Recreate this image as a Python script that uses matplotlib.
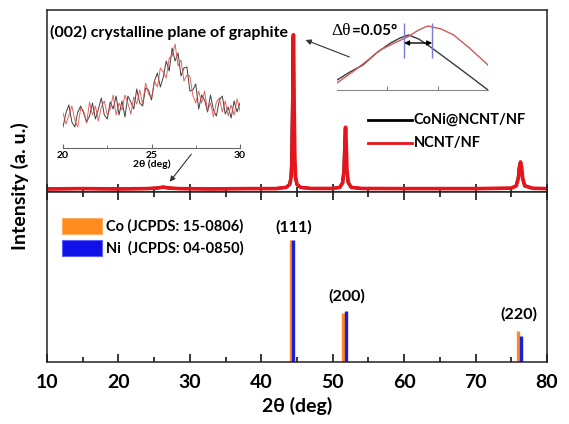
import matplotlib
matplotlib.use('Agg')
import matplotlib.pyplot as plt
from matplotlib.patches import Rectangle, FancyArrowPatch
from matplotlib.lines import Line2D
from matplotlib.ticker import MultipleLocator, FixedLocator

plt.rcParams['font.family'] = ['Lato', 'DejaVu Sans']
plt.rcParams['font.weight'] = 'bold'

# ---------------- data ----------------
# main XRD patterns (2theta, normalised intensity)
ncnt_x = [10, 15, 20, 24, 25.5, 26.3, 27, 28.5, 33, 38, 42, 43.5, 44.0, 44.2, 44.3, 44.4, 44.45,
          44.5, 44.55, 44.6, 44.7, 44.8, 45.0, 45.5, 47, 50, 51.0, 51.4, 51.6, 51.7, 51.8, 51.9,
          52.0, 52.2, 52.6, 54, 60, 70, 75, 75.7, 76.0, 76.15, 76.3, 76.45, 76.6, 76.9, 78, 80]
ncnt_y = [0.0, 0.002, 0.0, 0.002, 0.006, 0.012, 0.006, 0.002, 0.0, 0.002, 0.002, 0.01, 0.03, 0.08,
          0.2, 0.55, 0.85, 1.0, 0.85, 0.55, 0.2, 0.08, 0.03, 0.01, 0.003, 0.003, 0.01, 0.04, 0.12,
          0.28, 0.40, 0.28, 0.12, 0.04, 0.01, 0.003, 0.002, 0.002, 0.005, 0.02, 0.07, 0.14, 0.175,
          0.14, 0.07, 0.02, 0.004, 0.002]
coni_x = [10, 15, 20, 24, 25.5, 26.3, 27, 28.5, 33, 38, 42, 43.45, 43.95, 44.15, 44.25, 44.35, 44.4,
          44.45, 44.5, 44.55, 44.65, 44.75, 44.95, 45.45, 47, 50, 50.95, 51.35, 51.55, 51.65, 51.75,
          51.85, 51.95, 52.15, 52.55, 54, 60, 70, 75, 75.65, 75.95, 76.1, 76.25, 76.4, 76.55, 76.85, 78, 80]
coni_y = [0.0, 0.002, 0.0, 0.002, 0.006, 0.012, 0.006, 0.002, 0.0, 0.002, 0.002, 0.01, 0.03, 0.08,
          0.2, 0.55, 0.85, 0.99, 0.85, 0.55, 0.2, 0.08, 0.03, 0.01, 0.003, 0.003, 0.01, 0.04, 0.12,
          0.28, 0.39, 0.28, 0.12, 0.04, 0.01, 0.003, 0.002, 0.002, 0.005, 0.02, 0.07, 0.14, 0.17,
          0.14, 0.07, 0.02, 0.004, 0.002]

# inset 1: graphite (002) region 20-30 deg
inset_x = [20 + i / 6 for i in range(61)]
inset_black = [21, 35, 43, 26, 21, 36, 42, 35, 26, 32, 45, 29, 39, 50, 33, 29, 46, 39, 52, 33,
               47, 31, 52, 46, 39, 59, 45, 42, 60, 58, 48, 67, 75, 61, 71, 87, 77, 100, 87, 95,
               72, 80, 81, 57, 58, 64, 39, 53, 48, 36, 53, 38, 32, 48, 52, 34, 41, 30, 47, 36, 45]
inset_red = [35, 24, 33, 42, 28, 21, 40, 37, 25, 46, 33, 42, 27, 41, 47, 33, 39, 53, 33, 45,
             38, 53, 45, 34, 51, 44, 58, 44, 65, 54, 50, 67, 61, 80, 76, 70, 90, 92, 104, 82,
             88, 67, 73, 72, 53, 45, 57, 45, 57, 37, 45, 31, 46, 50, 36, 47, 32, 43, 33, 49, 37]

# inset 2: zoom of (111) peak top
zoom_black_x = [44.35, 44.373, 44.396, 44.42, 44.445, 44.462, 44.477, 44.495, 44.516, 44.54, 44.564, 44.59, 44.618]
zoom_black_y = [10, 18, 25, 37, 47, 52, 55, 51, 43, 33, 23, 12, 0]
zoom_red_x = [44.35, 44.38, 44.405, 44.427, 44.452, 44.475, 44.495, 44.511, 44.535, 44.557, 44.585, 44.618]
zoom_red_y = [7, 19, 30, 40, 47, 53, 60, 64, 61, 55, 42, 25]
shift_pos = [44.469, 44.519]

# reference patterns
co_pos = [44.2, 51.5, 75.9]
co_int = [100, 40, 25]
ni_pos = [44.5, 51.8, 76.4]
ni_int = [100, 42, 21]
hkl_labels = ['(111)', '(200)', '(220)']
hkl_x = [44.5, 52.0, 76.0]
hkl_y = [104, 48, 33]

# ---------------- figure ----------------
W, H = 569, 424
def fx(px): return px / W
def fy(py): return 1 - py / H

fig = plt.figure(figsize=(5.69, 4.24), dpi=100)
ax1 = fig.add_axes([fx(47), fy(192), fx(547) - fx(47), fy(10) - fy(192)])
ax2 = fig.add_axes([fx(47), fy(362), fx(547) - fx(47), fy(192) - fy(362)])

for ax in (ax1, ax2):
    ax.set_xlim(10, 80)
    ax.xaxis.set_major_locator(MultipleLocator(10))
    ax.xaxis.set_minor_locator(MultipleLocator(5))
    ax.set_yticks([])
    for s in ax.spines.values():
        s.set_linewidth(1.1)
        s.set_color('#222222')

ax1.tick_params(axis='x', which='both', direction='in', top=False, bottom=True,
                labelbottom=False, width=1.1)
ax1.tick_params(axis='x', which='major', length=6)
ax1.tick_params(axis='x', which='minor', length=3.5)
ax2.tick_params(axis='x', which='both', direction='in', top=True, bottom=True,
                labelbottom=True, width=1.1, labelsize=14, pad=9)
ax2.tick_params(axis='x', which='major', length=6)
ax2.tick_params(axis='x', which='minor', length=3.5)
for lab in ax2.get_xticklabels():
    lab.set_fontweight('bold')

ax1.plot(coni_x, coni_y, color='black', lw=2.0)
ax1.plot(ncnt_x, ncnt_y, color='#e8141b', lw=2.6)
ax1.set_ylim(-0.02, 1.16)

ax2.vlines(co_pos, 0, co_int, color='#ff8a1e', lw=2.4)
ax2.vlines(ni_pos, 0, ni_int, color='#1d1de0', lw=2.4)
ax2.set_ylim(0, 139)
for lab, x, y in zip(hkl_labels, hkl_x, hkl_y):
    ax2.text(x, y, lab, ha='center', va='bottom', fontsize=11.5, fontweight='bold')

ax2.set_xlabel('2θ (deg)', fontsize=14, fontweight='bold', labelpad=4)
fig.text(fx(20), fy(186), 'Intensity (a. u.)', rotation=90, ha='center', va='center',
         fontsize=14, fontweight='bold')

# lower legend
fig.add_artist(Rectangle((fx(62), fy(234)), fx(102) - fx(62), fy(218) - fy(234),
                         transform=fig.transFigure, facecolor='#ff8a1e', edgecolor='#ffb060', lw=0.8))
fig.add_artist(Rectangle((fx(62), fy(256)), fx(102) - fx(62), fy(240) - fy(256),
                         transform=fig.transFigure, facecolor='#1010e8', edgecolor='#6060ff', lw=0.8))
fig.text(fx(106), fy(226), 'Co (JCPDS: 15-0806)', ha='left', va='center', fontsize=10.5, fontweight='bold')
fig.text(fx(106), fy(248), 'Ni  (JCPDS: 04-0850)', ha='left', va='center', fontsize=10.5, fontweight='bold')

# upper legend
fig.add_artist(Line2D([fx(368), fx(412)], [fy(120), fy(120)], transform=fig.transFigure,
                      color='black', lw=2))
fig.add_artist(Line2D([fx(368), fx(412)], [fy(143), fy(143)], transform=fig.transFigure,
                      color='#e8141b', lw=2))
fig.text(fx(414), fy(120), 'CoNi@NCNT/NF', ha='left', va='center', fontsize=10.5, fontweight='bold')
fig.text(fx(414), fy(143), 'NCNT/NF', ha='left', va='center', fontsize=10.5, fontweight='bold')

fig.text(fx(50), fy(32), '(002) crystalline plane of graphite', ha='left', va='center',
         fontsize=11.5, fontweight='bold')

# inset 1
axi = fig.add_axes([fx(63), fy(148), fx(240) - fx(63), fy(40) - fy(148)])
axi.patch.set_alpha(0)
for k in ('top', 'left', 'right'):
    axi.spines[k].set_visible(False)
axi.spines['bottom'].set_color('#666666')
axi.spines['bottom'].set_linewidth(0.8)
axi.plot(inset_x, inset_black, color='#404040', lw=0.7)
axi.plot(inset_x, inset_red, color='#e04848', lw=0.7, alpha=0.85)
axi.set_xlim(20, 30)
axi.set_ylim(0, 108)
axi.set_yticks([])
axi.xaxis.set_major_locator(FixedLocator([20, 25, 30]))
axi.xaxis.set_minor_locator(FixedLocator([22.5, 27.5]))
axi.tick_params(axis='x', which='both', direction='in', labelsize=7.5, pad=2, color='#666666')
axi.tick_params(axis='x', which='major', length=3)
axi.tick_params(axis='x', which='minor', length=2)
for lab in axi.get_xticklabels():
    lab.set_fontweight('bold')
axi.set_xlabel('2θ (deg)', fontsize=7.5, fontweight='bold', labelpad=0)

# inset 2
axz = fig.add_axes([fx(337), fy(90), fx(488) - fx(337), fy(22) - fy(90)])
axz.patch.set_alpha(0)
for k in ('top', 'left', 'right'):
    axz.spines[k].set_visible(False)
axz.spines['bottom'].set_color('#888888')
axz.spines['bottom'].set_linewidth(0.8)
axz.plot(zoom_black_x, zoom_black_y, color='#3a3a3a', lw=1.0)
axz.plot(zoom_red_x, zoom_red_y, color='#d05a5a', lw=1.0)
axz.vlines(shift_pos, 32, 67, color='#7a7ad8', lw=1.0)
axz.annotate('', xy=(shift_pos[0], 47), xytext=(shift_pos[1], 47),
             arrowprops=dict(arrowstyle='<|-|>', color='black', lw=1.0, mutation_scale=7,
                             shrinkA=0, shrinkB=0))
axz.set_xlim(44.35, 44.618)
axz.set_ylim(0, 68)
axz.set_yticks([])
axz.xaxis.set_major_locator(FixedLocator([44.439, 44.529]))
axz.tick_params(axis='x', direction='in', length=3, labelbottom=False, color='#888888')

fig.text(fx(331), fy(31), 'Δθ', ha='left', va='center', fontsize=12.5, fontweight='normal',
         family='Liberation Serif')
fig.text(fx(352), fy(31), '=0.05°', ha='left', va='center', fontsize=11, fontweight='bold')

# pointer arrows
fig.add_artist(FancyArrowPatch((fx(352), fy(58)), (fx(303), fy(39)), transform=fig.transFigure,
                               arrowstyle='-|>', mutation_scale=8, color='#333333', lw=0.8))
fig.add_artist(FancyArrowPatch((fx(193), fy(152)), (fx(168), fy(184)), transform=fig.transFigure,
                               arrowstyle='-|>', mutation_scale=8, color='#333333', lw=0.8))

fig.savefig('out.png', dpi=100)
